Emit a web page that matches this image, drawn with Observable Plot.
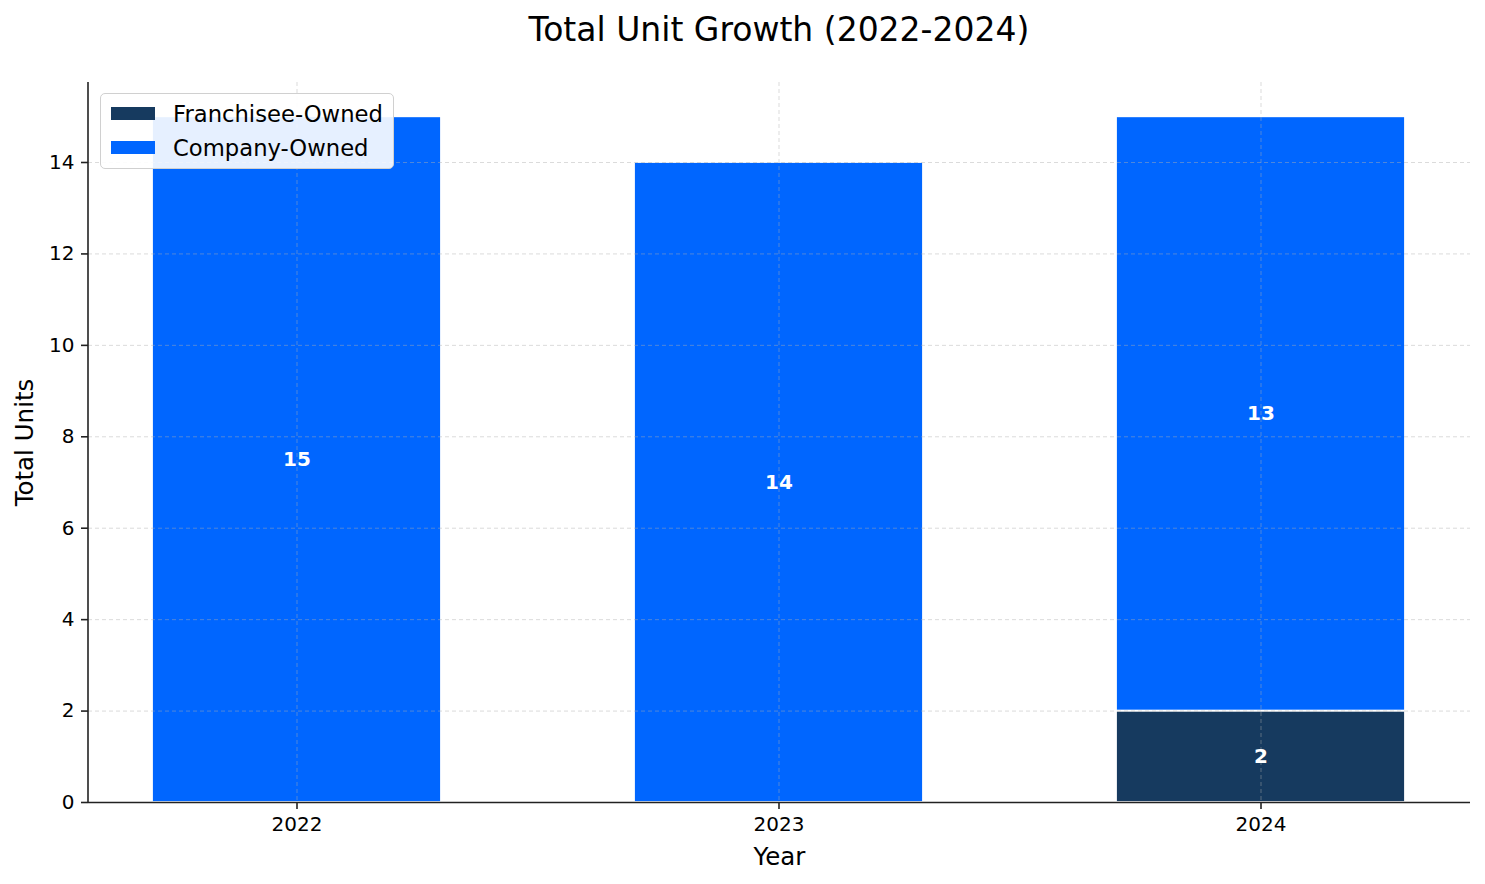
<!DOCTYPE html>
<html>
<head>
<meta charset="utf-8">
<script src="https://cdn.jsdelivr.net/npm/d3@7"></script>
<script src="https://cdn.jsdelivr.net/npm/@observablehq/plot@0.6"></script>
<style>
  html, body { margin: 0; padding: 0; background: #fff; }
  body { font-family: "DejaVu Sans", sans-serif; }
  #wrap { position: relative; width: 1485px; height: 884px; }
  #title { position: absolute; left: 88px; width: 1382px; top: 12px; line-height: 36px;
           font-size: 33px; text-align: center; color: #000; }
  #chart { position: absolute; left: 0; top: 62px; }
  #legend { position: absolute; left: 100px; top: 93px; width: 292px; height: 74px;
            background: rgba(255,255,255,0.9); border: 1px solid #d0d0d0; border-radius: 5px; }
  .item { position: absolute; left: 0; height: 30px; width: 290px; }
  .sw { position: absolute; left: 10px; width: 44px; height: 13px; }
  .lab { position: absolute; left: 72px; font-size: 22.7px; color: #000; white-space: nowrap; }
</style>
</head>
<body>
<div id="wrap">
  <div id="title">Total Unit Growth (2022-2024)</div>
  <div id="chart"></div>
  <div id="legend"></div>
</div>
<script>
const years = ["2022", "2023", "2024"];
const seriesNames = ["Franchisee-Owned", "Company-Owned"];
const franchiseeOwned = [0, 0, 2];
const companyOwned = [15, 14, 13];
const seriesColors = ["#163a5f", "#0066ff"];
const yTicks = [0, 2, 4, 6, 8, 10, 12, 14];

const seriesValues = [franchiseeOwned, companyOwned];
const table = [];
seriesNames.forEach((name, si) => {
  years.forEach((yr, i) => {
    table.push({year: yr, type: name, value: seriesValues[si][i]});
  });
});
const shown = table.filter(d => d.value > 0);

const W = 1485, H = 822;
const mL = 88, mR = 15, mT = 20, mB = 82;
const ink = "#222";

const plot = Plot.plot({
  width: W,
  height: H,
  marginLeft: mL,
  marginRight: mR,
  marginTop: mT,
  marginBottom: mB,
  style: {fontFamily: "DejaVu Sans, sans-serif", fontSize: "20px", color: "#000", background: "#fff"},
  x: {type: "band", domain: years, paddingInner: 0.4, paddingOuter: 0.1307, align: 0.5, label: null},
  y: {domain: [0, 15.75], label: null},
  color: {domain: seriesNames, range: seriesColors},
  marks: [
    Plot.barY(shown, {x: "year", y: "value", z: "type", fill: "type", stroke: "white", strokeWidth: 1.8}),
    Plot.gridY(yTicks, {stroke: "#b0b0b0", strokeOpacity: 0.45, strokeDasharray: "4,3", strokeWidth: 1}),
    Plot.gridX(years, {stroke: "#b0b0b0", strokeOpacity: 0.45, strokeDasharray: "4,3", strokeWidth: 1}),
    Plot.text(shown, Plot.stackY({x: "year", y: "value", z: "type", text: d => String(d.value),
      fill: "white", fontWeight: "bold", fontSize: 20})),
    Plot.ruleY([0], {stroke: ink, strokeWidth: 1.6}),
    Plot.axisY({ticks: yTicks, tickSize: 7, tickPadding: 7, fontSize: 20, stroke: ink, strokeWidth: 1.6, fill: "#000", label: null}),
    Plot.axisX({tickSize: 7, tickPadding: 7, fontSize: 20, stroke: ink, strokeWidth: 1.6, fill: "#000", label: null}),
    Plot.text(["Year"], {frameAnchor: "bottom", dy: 55, fontSize: 24.5, fill: "#000", textAnchor: "middle", lineAnchor: "middle"}),
    Plot.text(["Total Units"], {frameAnchor: "left", dx: -63, rotate: -90, fontSize: 24.5, fill: "#000", textAnchor: "middle", lineAnchor: "middle"})
  ]
});

// left spine
d3.select(plot).append("line")
  .attr("x1", mL).attr("x2", mL)
  .attr("y1", mT).attr("y2", H - mB + 0.8)
  .attr("stroke", ink).attr("stroke-width", 1.6);

document.getElementById("chart").appendChild(plot);

// legend
const legend = document.getElementById("legend");
seriesNames.forEach((name, i) => {
  const item = document.createElement("div");
  item.className = "item";
  item.style.top = (5 + i * 34) + "px";
  const sw = document.createElement("div");
  sw.className = "sw";
  sw.style.background = seriesColors[i];
  sw.style.top = "8px";
  const lab = document.createElement("div");
  lab.className = "lab";
  lab.style.top = "0px";
  lab.style.lineHeight = "30px";
  lab.textContent = name;
  item.appendChild(sw);
  item.appendChild(lab);
  legend.appendChild(item);
});
</script>
</body>
</html>
